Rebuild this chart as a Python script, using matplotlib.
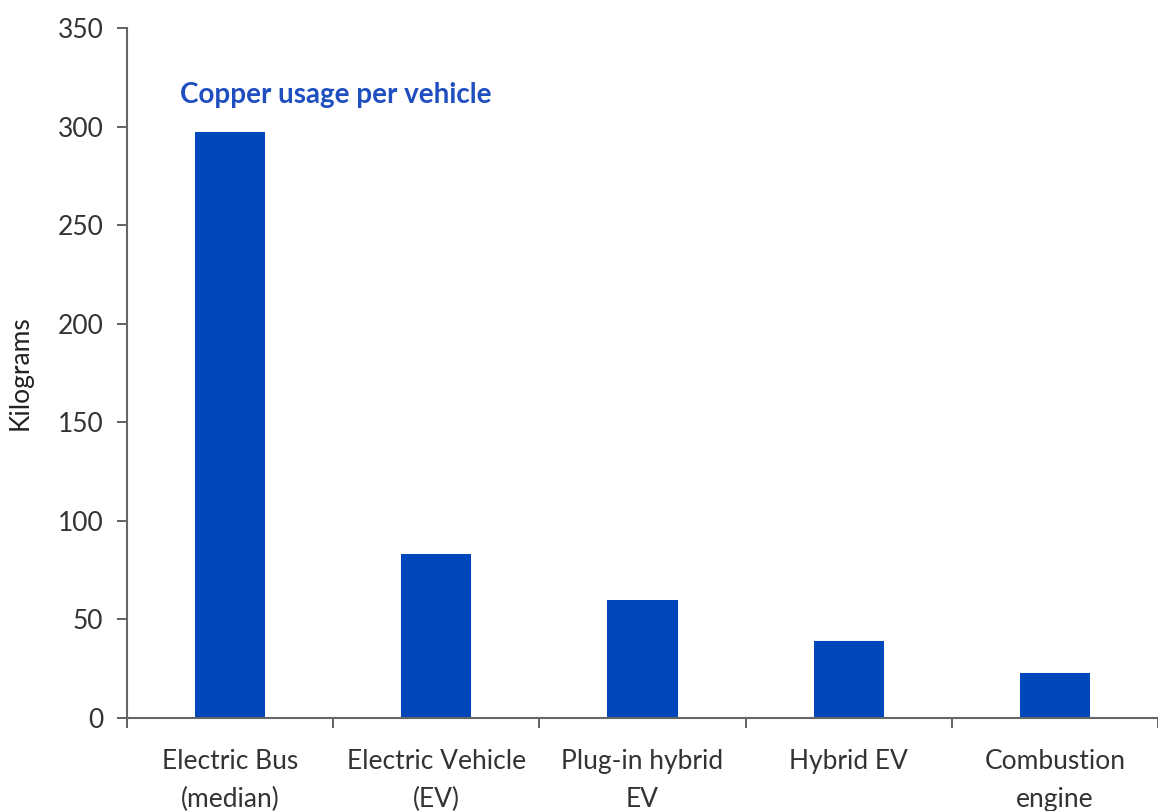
# Copper usage per vehicle type - bar chart

import matplotlib.pyplot as plt

# data
categories = ["Electric Bus\n(median)", "Electric Vehicle\n(EV)", "Plug-in hybrid\nEV", "Hybrid EV", "Combustion\nengine"]
copper_kg = [297, 83, 60, 39, 23]
y_ticks = [0, 50, 100, 150, 200, 250, 300, 350]

plt.rcParams["font.family"] = ["Lato", "DejaVu Sans"]

fig = plt.figure(figsize=(11.58, 8.11), dpi=100)
ax = fig.add_axes([0.1097, 0.1147, 0.8903, 0.8508])

x = range(len(categories))
ax.bar(x, copper_kg, width=0.34, color="#0047BB")

ax.set_xlim(-0.5, len(categories) - 0.5)
ax.set_ylim(0, 350)
ax.set_yticks(y_ticks)

# category ticks sit between the bars
ax.set_xticks([i - 0.5 for i in range(len(categories) + 1)])
ax.set_xticklabels([])
ax.set_xticks(list(x), minor=True)
ax.set_xticklabels(categories, minor=True, fontsize=19, color="#333333", linespacing=1.65)
ax.tick_params(axis="x", which="minor", length=0, pad=22)
ax.tick_params(axis="x", which="major", length=7, width=1.3, color="#555555", direction="out")
ax.tick_params(axis="y", length=7, width=1.3, color="#555555", labelsize=19, labelcolor="#333333", pad=10)

for side in ["top", "right"]:
    ax.spines[side].set_visible(False)
for side in ["left", "bottom"]:
    ax.spines[side].set_color("#666666")
    ax.spines[side].set_linewidth(1.5)

ax.set_ylabel("Kilograms", fontsize=19, color="#222222", labelpad=18)

ax.text(-0.245, 316, "Copper usage per vehicle", fontsize=20, fontweight="bold",
        color="#1F4FBF", va="center", ha="left")

plt.savefig("out.png", dpi=100)
